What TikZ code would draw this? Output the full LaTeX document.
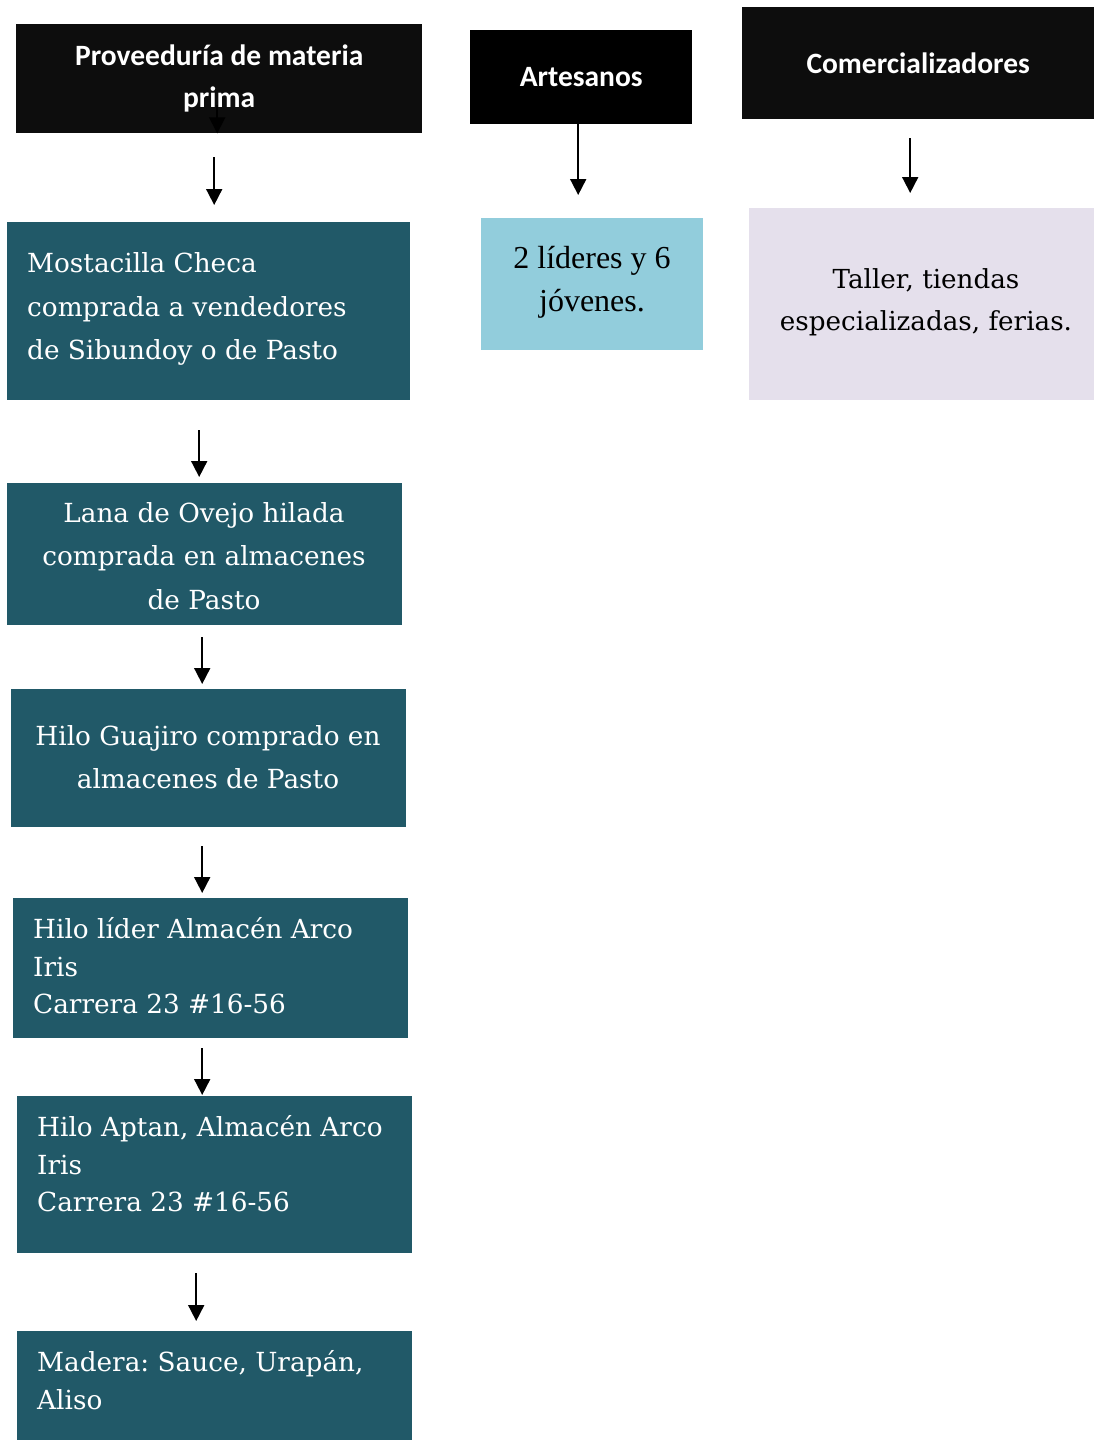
\documentclass[tikz,border=0pt]{standalone}
\usepackage{fontspec}
\usetikzlibrary{arrows.meta}
\newfontfamily\hdrfont{Carlito}
\newfontfamily\camfont{DejaVu Serif}
\newfontfamily\timfont{Liberation Serif}
\definecolor{hdrblack}{HTML}{0D0D0D}
\definecolor{tealbox}{HTML}{215968}
\definecolor{skybox}{HTML}{92CDDC}
\definecolor{lavbox}{HTML}{E5E0EC}
\frenchspacing
\tikzset{
  x=1pt, y=-1pt,
  hdr/.style={fill=hdrblack, draw=none, text=white, font=\hdrfont\bfseries\fontsize{29.5}{42}\selectfont, align=center, inner sep=0pt, anchor=north west},
  boxfill/.style={fill=tealbox, draw=none, inner sep=0pt, anchor=north west},
  tealtxt/.style={text=white, inner sep=0pt},
  wide/.style={font=\camfont\fontsize{26.3}{43.5}\selectfont},
  tight/.style={font=\camfont\fontsize{26.3}{37.5}\selectfont},
  arr/.style={draw=black, line width=1.8pt, -{Triangle[length=16pt,width=16pt]}},
}
\begin{document}
\begin{tikzpicture}
\useasboundingbox (0,0) rectangle (1094,1440);
% headers
\node[hdr, minimum width=406pt, minimum height=109pt] (p) at (16,24) {Proveeduría de materia\\prima};
\node[hdr, fill=black, minimum width=222pt, minimum height=94pt] (a) at (470,30) {Artesanos};
\node[hdr, minimum width=352pt, minimum height=112pt] (c) at (742,7) {Comercializadores};
% teal boxes
\node[boxfill, minimum width=403pt, minimum height=178pt] (m) at (7,222) {};
\node[tealtxt, wide, align=left, anchor=west] (mt) at (27,309) {Mostacilla Checa\\comprada a vendedores\\de Sibundoy o de Pasto};
\node[boxfill, minimum width=395pt, minimum height=142pt] (l) at (7,483) {};
\node[tealtxt, wide, align=center] (lt) at (204,556) {Lana de Ovejo hilada\\comprada en almacenes\\de Pasto};
\node[boxfill, minimum width=395pt, minimum height=138pt] (g) at (11,689) {};
\node[tealtxt, wide, align=center] (gt) at (208,757) {Hilo Guajiro comprado en\\almacenes de Pasto};
\node[boxfill, minimum width=395pt, minimum height=140pt] (hl) at (13,898) {};
\node[tealtxt, tight, align=left, anchor=west] (hlt) at (33,966) {Hilo líder Almacén Arco\\Iris\\Carrera 23 \#16-56};
\node[boxfill, minimum width=395pt, minimum height=157pt] (ha) at (17,1096) {};
\node[tealtxt, tight, align=left, anchor=west] (hat) at (37,1164) {Hilo Aptan, Almacén Arco\\Iris\\Carrera 23 \#16-56};
\node[boxfill, minimum width=395pt, minimum height=109pt] (ma) at (17,1331) {};
\node[tealtxt, tight, align=left, anchor=west] (mat) at (37,1380) {Madera: Sauce, Urapán,\\Aliso};
% right column boxes
\node[fill=skybox, inner sep=0pt, anchor=north west, minimum width=222pt, minimum height=132pt] (j) at (481,218) {};
\node[inner sep=0pt, align=center, font=\timfont\fontsize{32}{43}\selectfont] (jt) at (592,282) {2 líderes y 6\\jóvenes.};
\node[fill=lavbox, inner sep=0pt, anchor=north west, minimum width=345pt, minimum height=192pt] (t) at (749,208) {};
\node[inner sep=0pt, align=center, font=\camfont\fontsize{26.2}{42}\selectfont] (tt) at (926,302) {Taller, tiendas\\especializadas, ferias.};
% arrows
\draw[arr] ([xshift=-2pt,yshift=28pt]p.south) -- ([xshift=-2pt]p.south);
\draw[arr] ([xshift=-5pt,yshift=-24pt]p.south) -- ([xshift=5.5pt,yshift=17pt]m.north);
\draw[arr] ([xshift=-9.5pt,yshift=-30pt]m.south) -- ([xshift=-5.5pt,yshift=6pt]l.north);
\draw[arr] ([xshift=-2.5pt,yshift=-12pt]l.south) -- ([xshift=-6.5pt,yshift=5pt]g.north);
\draw[arr] ([xshift=-6.5pt,yshift=-19pt]g.south) -- ([xshift=-8.5pt,yshift=5pt]hl.north);
\draw[arr] ([xshift=-8.5pt,yshift=-10pt]hl.south) -- ([xshift=-12.5pt,yshift=1pt]ha.north);
\draw[arr] ([xshift=-18.5pt,yshift=-20pt]ha.south) -- ([xshift=-18.5pt,yshift=10pt]ma.north);
\draw[arr] ([xshift=-3pt]a.south) -- ([xshift=-14pt,yshift=23pt]j.north);
\draw[arr] ([xshift=-8pt,yshift=-19pt]c.south) -- ([xshift=-11.5pt,yshift=15pt]t.north);
\end{tikzpicture}
\end{document}
